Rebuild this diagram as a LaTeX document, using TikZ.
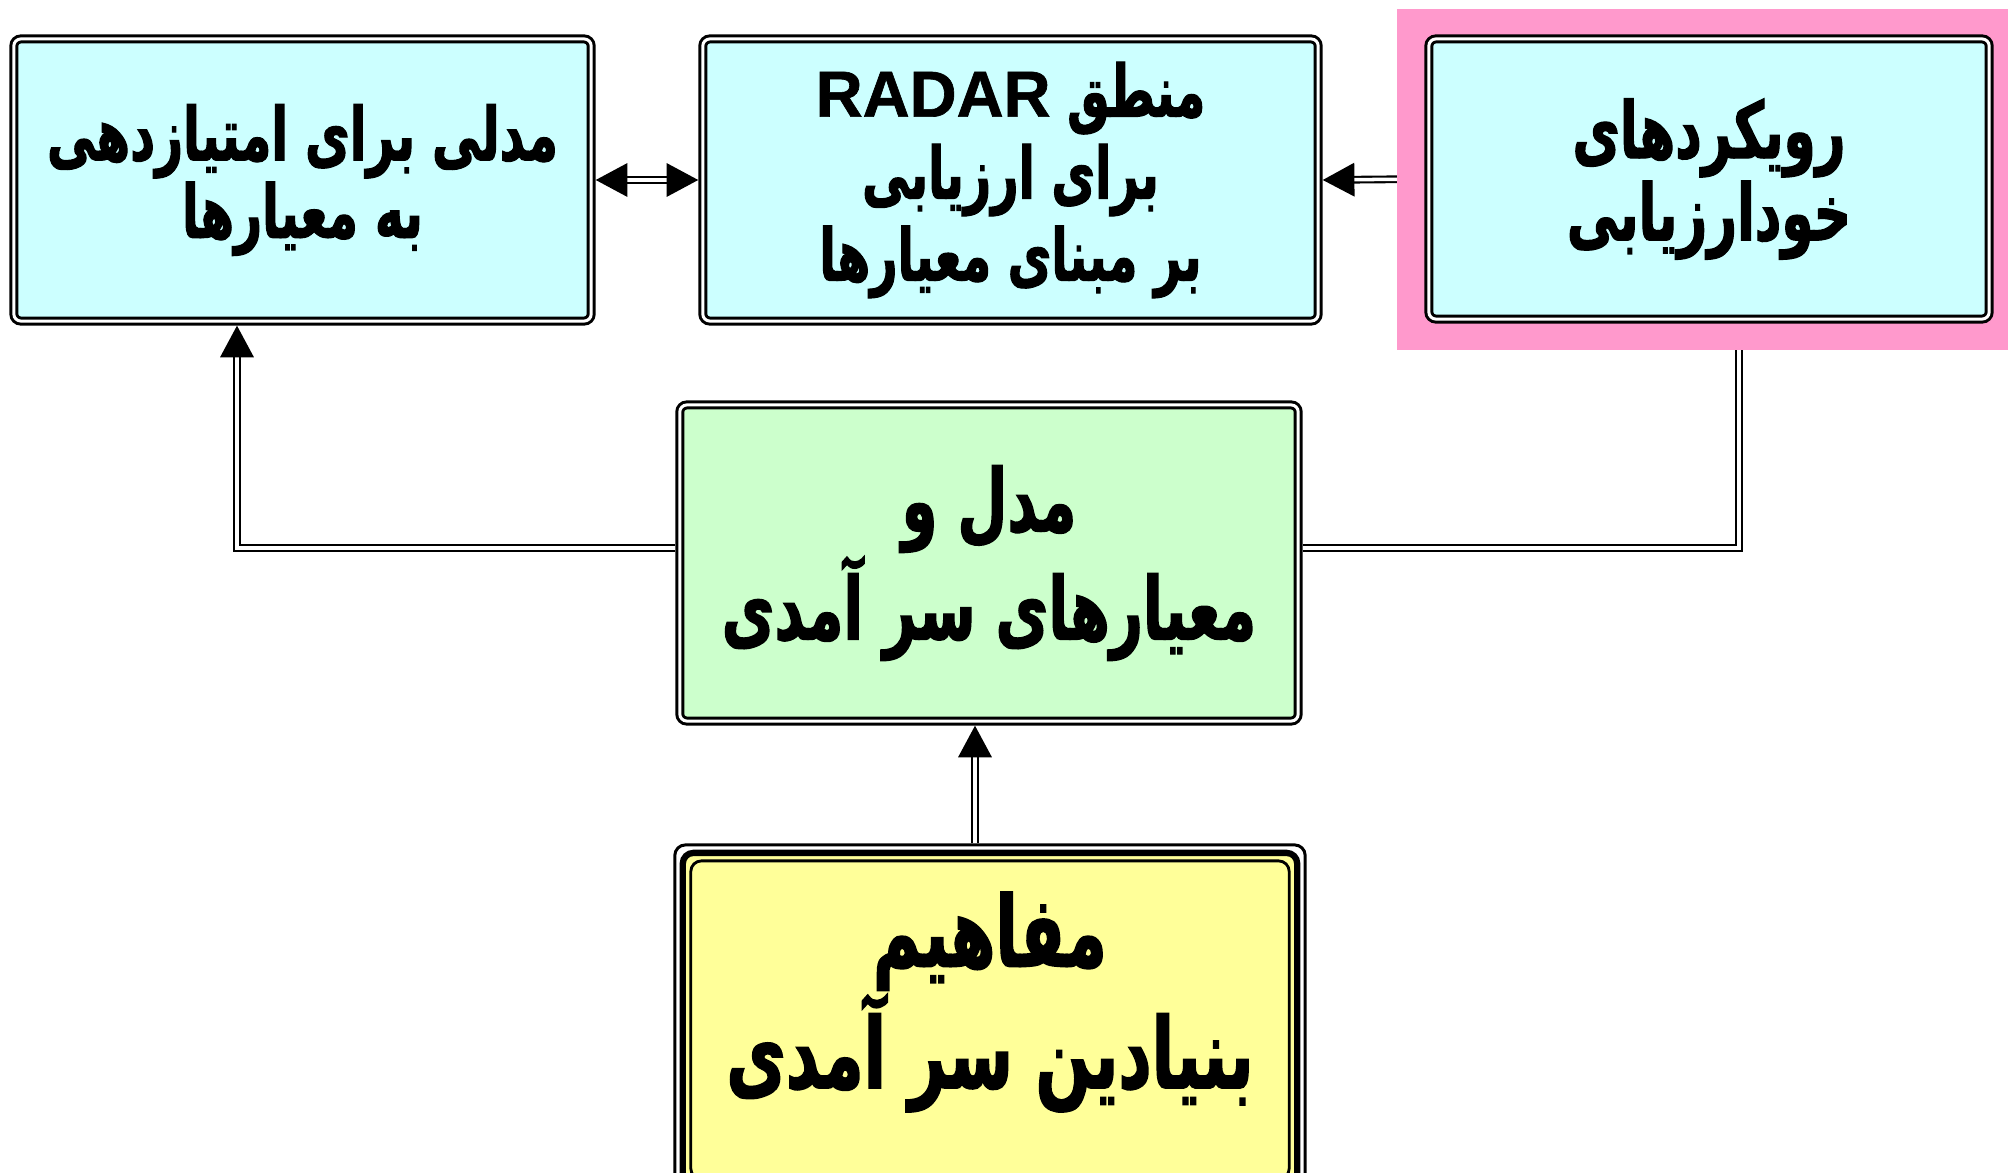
\documentclass[tikz,border=0pt]{standalone}
\usepackage{fontspec}
\usetikzlibrary{arrows.meta}
\TeXXeTstate=1
\newfontfamily\fa[Script=Arabic, FakeStretch=0.66, BoldFeatures={FakeBold=1.5}]{DejaVu Sans}
\newfontfamily\lat[BoldFeatures={FakeBold=1}]{Liberation Sans}
\definecolor{cyanbox}{HTML}{CCFFFF}
\definecolor{greenbox}{HTML}{CCFFCC}
\definecolor{yellowbox}{HTML}{FFFF99}
\definecolor{pinkbg}{HTML}{FF99CC}
\pgfdeclarelayer{bglayer}
\pgfdeclarelayer{lines}
\pgfdeclarelayer{pinklayer}
\pgfsetlayers{bglayer,lines,pinklayer,main}
\tikzset{
  box/.style={draw=black, line width=0.85pt, double=white, double distance=0.85pt,
    rounded corners=2pt, inner sep=0pt, outer sep=1.3pt, align=center,
    font=\fa\bfseries},
  conn/.style={draw=black, line width=0.6pt, double=white, double distance=1pt},
  tipshape/.style={},
  arr/.style={conn, -{Triangle[length=9pt, width=9.5pt]}},
  arrboth/.style={conn, {Triangle[length=9pt, width=9.5pt]}-{Triangle[length=9pt, width=9.5pt]}},
}
\begin{document}
\begin{tikzpicture}[x=0.01cm, y=-0.01cm]
\useasboundingbox (0,0) rectangle (2008,1173);
\begin{pgfonlayer}{bglayer}
  \fill[white] (0,0) rectangle (2008,1173);
\end{pgfonlayer}

% nodes
\node[box, fill=cyanbox, minimum width=5.77cm, minimum height=2.82cm,
      font=\fa\bfseries\fontsize{21}{22}\selectfont] (A) at (302.5,180)
  {\beginR مدلی برای امتیازدهی\endR\\\beginR به معیارها\endR};
\node[box, fill=cyanbox, minimum width=6.15cm, minimum height=2.82cm,
      font=\fa\bfseries\fontsize{20.5}{23.3}\selectfont] (B) at (1010.5,180)
  {\beginR منطق \beginL{\lat\bfseries\fontsize{18.5}{23.3}\selectfont RADAR}\endL\endR\\\beginR برای ارزیابی\endR\\\beginR بر مبنای معیارها\endR};
\node[box, fill=cyanbox, minimum width=5.60cm, minimum height=2.80cm,
      font=\fa\bfseries\fontsize{22.3}{21.5}\selectfont] (C) at (1709,179)
  {\beginR رویکردهای\endR\\\beginR خودارزیابی\endR};
\node[box, fill=greenbox, minimum width=6.18cm, minimum height=3.16cm,
      font=\fa\bfseries\fontsize{24.8}{29}\selectfont] (D) at (989,563)
  {\beginR مدل و\endR\\\beginR معیارهای سر آمدی\endR};
\begin{scope}
\clip (0,0) rectangle (2008,1173);
\node[draw=black, line width=0.85pt, rounded corners=3pt, fill=white,
      inner sep=0pt, outer sep=0.4pt,
      minimum width=6.30cm, minimum height=3.50cm,
      path picture={
        \fill[yellowbox] ([shift={(6,6)}]path picture bounding box.north west)
            rectangle ([shift={(-6,-6)}]path picture bounding box.south east);
        \draw[line width=1.8pt] ([shift={(8,8)}]path picture bounding box.north west)
            rectangle ([shift={(-8,-8)}]path picture bounding box.south east);
        \draw[line width=0.8pt] ([shift={(16,16)}]path picture bounding box.north west)
            rectangle ([shift={(-16,-16)}]path picture bounding box.south east);
      }] (E) at (990,1020) {};
\end{scope}
\node[inner sep=0pt, align=center, font=\fa\bfseries\fontsize{28}{30.5}\selectfont]
  (Etext) at (990,1002)
  {\beginR مفاهیم\endR\\\beginR بنیادین سر آمدی\endR};

% pink frame behind box C
\begin{pgfonlayer}{pinklayer}
  \fill[pinkbg] (1397,9) rectangle (2008,350);
\end{pgfonlayer}

\coordinate (cr) at (1739,548);
\coordinate (cl) at (237,548);
\coordinate (ed) at (975,0);

\begin{pgfonlayer}{lines}
  \draw[arrboth] (A.east) -- (B.west);
  \draw[arr] (C.west) -- (B.east);
  \draw[conn] (C.south -| cr) -- (cr) -- (D.east |- cr);
  \draw[arr] (D.west |- cl) -- (cl) -- (A.south -| cl);
  \draw[arr] (E.north -| ed) -- (D.south -| ed);
\end{pgfonlayer}
\end{tikzpicture}
\end{document}
